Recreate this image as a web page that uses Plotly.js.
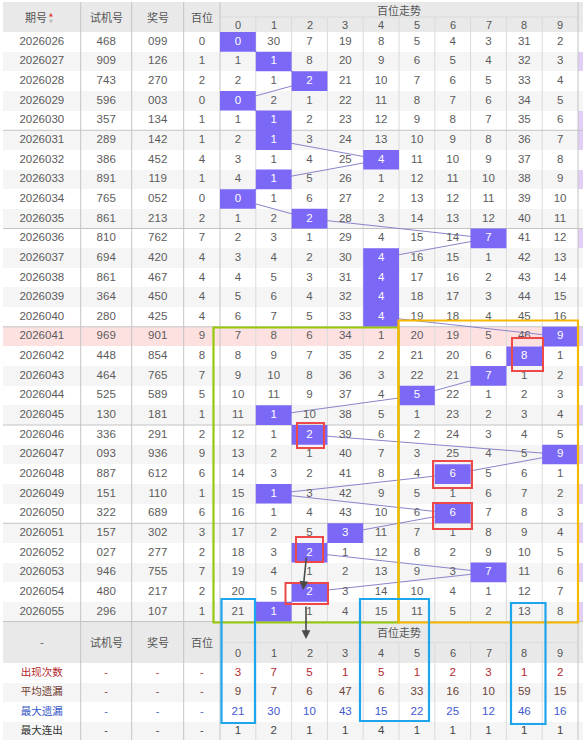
<!DOCTYPE html>
<html><head><meta charset="utf-8">
<script src="https://cdn.plot.ly/plotly-3.0.1.min.js"></script>
<style>html,body{margin:0;padding:0;background:#fff;}#chart{width:583px;height:740px;}</style>
</head><body><div id="chart"></div>
<script>
// ---------- DATA ----------
const periods = ['2026026','2026027','2026028','2026029','2026030','2026031','2026032','2026033','2026034','2026035','2026036','2026037','2026038','2026039','2026040','2026041','2026042','2026043','2026044','2026045','2026046','2026047','2026048','2026049','2026050','2026051','2026052','2026053','2026054','2026055'];
const trialNumbers = ['468','909','743','596','357','289','386','891','765','861','810','694','861','364','280','969','448','464','525','130','336','093','887','151','322','157','027','946','480','296'];
const prizeNumbers = ['099','126','270','003','134','142','452','119','052','213','762','420','467','450','425','901','854','765','589','181','291','936','612','110','689','302','277','755','217','107'];
const hundreds = [0,1,2,0,1,1,4,1,0,2,7,4,4,4,4,9,8,7,5,1,2,9,6,1,6,3,2,7,2,1];
const digitLabels = ['0','1','2','3','4','5','6','7','8','9'];
const omission = [
 [0,30,7,19,8,5,4,3,31,2],
 [1,1,8,20,9,6,5,4,32,3],
 [2,1,2,21,10,7,6,5,33,4],
 [0,2,1,22,11,8,7,6,34,5],
 [1,1,2,23,12,9,8,7,35,6],
 [2,1,3,24,13,10,9,8,36,7],
 [3,1,4,25,4,11,10,9,37,8],
 [4,1,5,26,1,12,11,10,38,9],
 [0,1,6,27,2,13,12,11,39,10],
 [1,2,2,28,3,14,13,12,40,11],
 [2,3,1,29,4,15,14,7,41,12],
 [3,4,2,30,4,16,15,1,42,13],
 [4,5,3,31,4,17,16,2,43,14],
 [5,6,4,32,4,18,17,3,44,15],
 [6,7,5,33,4,19,18,4,45,16],
 [7,8,6,34,1,20,19,5,46,9],
 [8,9,7,35,2,21,20,6,8,1],
 [9,10,8,36,3,22,21,7,1,2],
 [10,11,9,37,4,5,22,1,2,3],
 [11,1,10,38,5,1,23,2,3,4],
 [12,1,2,39,6,2,24,3,4,5],
 [13,2,1,40,7,3,25,4,5,9],
 [14,3,2,41,8,4,6,5,6,1],
 [15,1,3,42,9,5,1,6,7,2],
 [16,1,4,43,10,6,6,7,8,3],
 [17,2,5,3,11,7,1,8,9,4],
 [18,3,2,1,12,8,2,9,10,5],
 [19,4,1,2,13,9,3,7,11,6],
 [20,5,2,3,14,10,4,1,12,7],
 [21,1,1,4,15,11,5,2,13,8]
];
const edgeMark = [0,1,0,0,1,1,0,1,0,0,1,0,0,0,0,1,0,1,0,1,0,1,0,1,0,1,0,1,0,1];
const highlightRow = '2026041';
const statLabels = ['出现次数','平均遗漏','最大遗漏','最大连出'];
const appearCount = [3,7,5,1,5,1,2,3,1,2];
const avgOmission = [9,7,6,47,6,33,16,10,59,15];
const maxOmission = [21,30,10,43,15,22,25,12,46,16];
const maxStreak = [1,2,1,1,4,1,1,1,1,1];
const leftHeaders = ['期号','试机号','奖号','百位'];
const groupTitle = '百位走势';

// ---------- LAYOUT GEOMETRY ----------
const CW = 35.8, RH = 19.65, X0 = 220, Y0 = 32;
const X = px => (px - X0) / CW - 0.5;
const Y = py => (py - Y0) / RH - 0.5;
const FONT = '"Liberation Sans Narrow", "Liberation Sans", Arial, "Noto Sans CJK SC", sans-serif';
const CJK = '"Noto Sans CJK SC", "Liberation Sans", sans-serif';
const leftEdges = [X(3), X(80.7), X(131.7), X(183.7)];
const leftCenters = [X(41.8), X(106.2), X(157.7), X(201.9)];
const digitIdx = digitLabels.map((d, k) => k);
const xEdges = leftEdges.concat([-0.5], digitIdx.map(k => k + 0.5), [10.5]);
const nRows = periods.length;
const rowIdx = periods.map((p, i) => i);
const footTop = nRows - 0.5, footSplit = Y(642.7), statTop = Y(663.3);
const statY = statLabels.map((s, k) => statTop + 0.5 + k * 0.99);
const yEdges = [Y(2)].concat([-0.5], rowIdx.map(i => i + 0.5), statLabels.map((s, k) => statTop + k * 0.99), [Y(745)]);

// background z
const ncols = xEdges.length - 1;
const z = [];
z.push(new Array(ncols).fill(3));
rowIdx.forEach(i => {
  const base = periods[i] === highlightRow ? 2 : (i % 2 ? 1 : 0);
  const row = new Array(ncols).fill(base);
  row[ncols - 1] = edgeMark[i] ? 4 : base;
  z.push(row);
});
z.push(new Array(ncols).fill(3));
statLabels.forEach((s, k) => z.push(new Array(ncols).fill(k % 2)));

const traces = [];
traces.push({type: 'heatmap', x: xEdges, y: yEdges, z: z, zmin: 0, zmax: 4, showscale: false, hoverinfo: 'skip',
  colorscale: [[0,'#ffffff'],[0.125,'#ffffff'],[0.125,'#f5f5f5'],[0.375,'#f5f5f5'],[0.375,'#fde1e1'],[0.625,'#fde1e1'],[0.625,'#e9e9e9'],[0.875,'#e9e9e9'],[0.875,'#e3cff6'],[1,'#e3cff6']]});

// grid lines
const darkX = [], darkY = [], lightX = [], lightY = [];
leftEdges.slice(1).concat([-0.5, 9.5]).forEach(x => { darkX.push(x, x, null); darkY.push(Y(2), Y(745), null); });
digitIdx.slice(0, 9).forEach(k => {
  lightX.push(k + 0.5, k + 0.5, null, k + 0.5, k + 0.5, null);
  lightY.push(Y(17), footTop, null, footSplit, Y(745), null);
});
lightX.push(-0.5, 9.5, null, -0.5, 9.5, null); lightY.push(Y(17), Y(17), null, footSplit, footSplit, null);
rowIdx.filter(i => i % 5 === 4).forEach(i => { darkX.push(X(3), 10.5, null); darkY.push(i + 0.5, i + 0.5, null); });
traces.push({type: 'scatter', mode: 'lines', x: lightX, y: lightY, line: {color: '#dadada', width: 1}, hoverinfo: 'skip'});
traces.push({type: 'scatter', mode: 'lines', x: darkX, y: darkY, line: {color: '#c4c4c4', width: 1}, hoverinfo: 'skip'});

// trend line
traces.push({type: 'scatter', mode: 'lines', x: hundreds, y: rowIdx, line: {color: '#8a84cc', width: 1}, hoverinfo: 'skip'});

// hit cells
const hx = [], hy = [];
hundreds.forEach((d, i) => { hx.push(d-0.5, d+0.5, d+0.5, d-0.5, d-0.5, null); hy.push(i-0.5, i-0.5, i+0.5, i+0.5, i-0.5, null); });
traces.push({type: 'scatter', mode: 'lines', x: hx, y: hy, fill: 'toself', fillcolor: '#7b68f6', line: {width: 0, color: 'rgba(0,0,0,0)'}, hoverinfo: 'skip'});

// left columns text
const leftCols = [periods, trialNumbers, prizeNumbers, hundreds.map(String)];
leftCols.forEach((col, c) => {
  traces.push({type: 'scatter', mode: 'text', x: col.map(() => leftCenters[c]), y: rowIdx, text: col,
    textfont: {family: FONT, size: 11.5, color: '#5c5c5c'}, hoverinfo: 'skip'});
});
// omission text
const ox = [], oy = [], ot = [], hxT = [], hyT = [], htT = [];
omission.forEach((row, i) => row.forEach((v, d) => {
  if (d === hundreds[i]) { hxT.push(d); hyT.push(i); htT.push(String(v)); }
  else { ox.push(d); oy.push(i); ot.push(String(v)); }
}));
traces.push({type: 'scatter', mode: 'text', x: ox, y: oy, text: ot, textfont: {family: FONT, size: 11.5, color: '#5c5c5c'}, hoverinfo: 'skip'});
traces.push({type: 'scatter', mode: 'text', x: hxT, y: hyT, text: htT, textfont: {family: FONT, size: 11.5, color: '#ffffff'}, hoverinfo: 'skip'});

// stats rows
const statSeries = [appearCount, avgOmission, maxOmission, maxStreak];
const statColors = ['#b3282d', '#6e4438', '#4458d0', '#444444'];
const statLabelColors = ['#b3282d', '#6e3a2e', '#3557c8', '#333333'];
statSeries.forEach((s, k) => {
  traces.push({type: 'scatter', mode: 'text', x: digitIdx, y: digitIdx.map(() => statY[k]), text: s.map(String),
    textfont: {family: FONT, size: 11.5, color: statColors[k]}, hoverinfo: 'skip'});
  traces.push({type: 'scatter', mode: 'text', x: leftCenters, y: leftCenters.map(() => statY[k]),
    text: [statLabels[k], '-', '-', '-'], textfont: {family: CJK, size: 10.5, color: statLabelColors[k]}, hoverinfo: 'skip'});
});

// header annotations
const ann = [];
const hdr = (x, y, t, size, color, fam) => ann.push({x: x, y: y, xref: 'x', yref: 'y', text: t, showarrow: false,
  font: {family: fam || CJK, size: size || 11, color: color || '#555'}});
hdr(X(35.5), Y(17), leftHeaders[0]);
ann.push({x: X(51), y: Y(17.2), xref: 'x', yref: 'y', showarrow: false,
  text: '<span style="color:#e04040">▲</span><br><span style="color:#bbbbbb">▼</span>',
  font: {family: 'DejaVu Sans, sans-serif', size: 5, color: '#bbb'}});
leftHeaders.slice(1).forEach((t, c) => hdr(leftCenters[c + 1], Y(17), t));
hdr(4.5, Y(9.5), groupTitle);
digitLabels.forEach((d, k) => hdr(k, Y(24.8), d, 11, '#555', FONT));
hdr(leftCenters[0], Y(642), '-');
leftHeaders.slice(1).forEach((t, c) => hdr(leftCenters[c + 1], Y(642), t));
hdr(4.5, Y(632), groupTitle);
digitLabels.forEach((d, k) => hdr(k, Y(652.5), d, 11, '#555', FONT));

// overlay arrows
ann.push({x: X(303), y: Y(590), ax: X(306.5), ay: Y(556), xref: 'x', yref: 'y', axref: 'x', ayref: 'y', text: '', showarrow: true, arrowhead: 2, arrowsize: 1.1, arrowwidth: 1.6, arrowcolor: '#4a4a4a'});
ann.push({x: X(306), y: Y(639), ax: X(306), ay: Y(605), xref: 'x', yref: 'y', axref: 'x', ayref: 'y', text: '', showarrow: true, arrowhead: 2, arrowsize: 1.1, arrowwidth: 1.6, arrowcolor: '#4a4a4a'});

// overlay boxes
const box = (x0, y0, x1, y1, color, w) => ({type: 'rect', xref: 'x', yref: 'y', x0: X(x0), x1: X(x1), y0: Y(y0), y1: Y(y1), line: {color: color, width: w}, fillcolor: 'rgba(0,0,0,0)', layer: 'above'});
const shapes = [
  box(213.5, 327.5, 398.5, 622.5, '#97c90a', 2.2),
  box(398.5, 320.5, 578, 622.5, '#f8b800', 2.2),
  box(512, 338, 543, 371, '#ee4848', 2),
  box(297, 423, 324, 448, '#ee4848', 2),
  box(433, 461, 472, 488, '#ee4848', 2),
  box(433, 503, 472, 529, '#ee4848', 2),
  box(296, 537, 323, 562, '#ee4848', 2),
  box(285.5, 583, 328, 604, '#ee4848', 2),
  box(221.5, 599, 255, 723, '#1ea5ec', 2.2),
  box(360, 599, 429, 721, '#1ea5ec', 2.2),
  box(511, 603, 545.5, 724, '#1ea5ec', 2.2)
];

const layout = {
  width: 583, height: 740, autosize: false, margin: {l: 0, r: 0, t: 0, b: 0, pad: 0},
  paper_bgcolor: '#ffffff', plot_bgcolor: '#ffffff', showlegend: false,
  xaxis: {range: [X(0), X(583)], showgrid: false, zeroline: false, showticklabels: false, ticks: '', fixedrange: true, showline: false},
  yaxis: {range: [Y(740), Y(0)], showgrid: false, zeroline: false, showticklabels: false, ticks: '', fixedrange: true, showline: false},
  annotations: ann, shapes: shapes
};
Plotly.newPlot('chart', traces, layout, {displayModeBar: false, staticPlot: true});
</script></body></html>
